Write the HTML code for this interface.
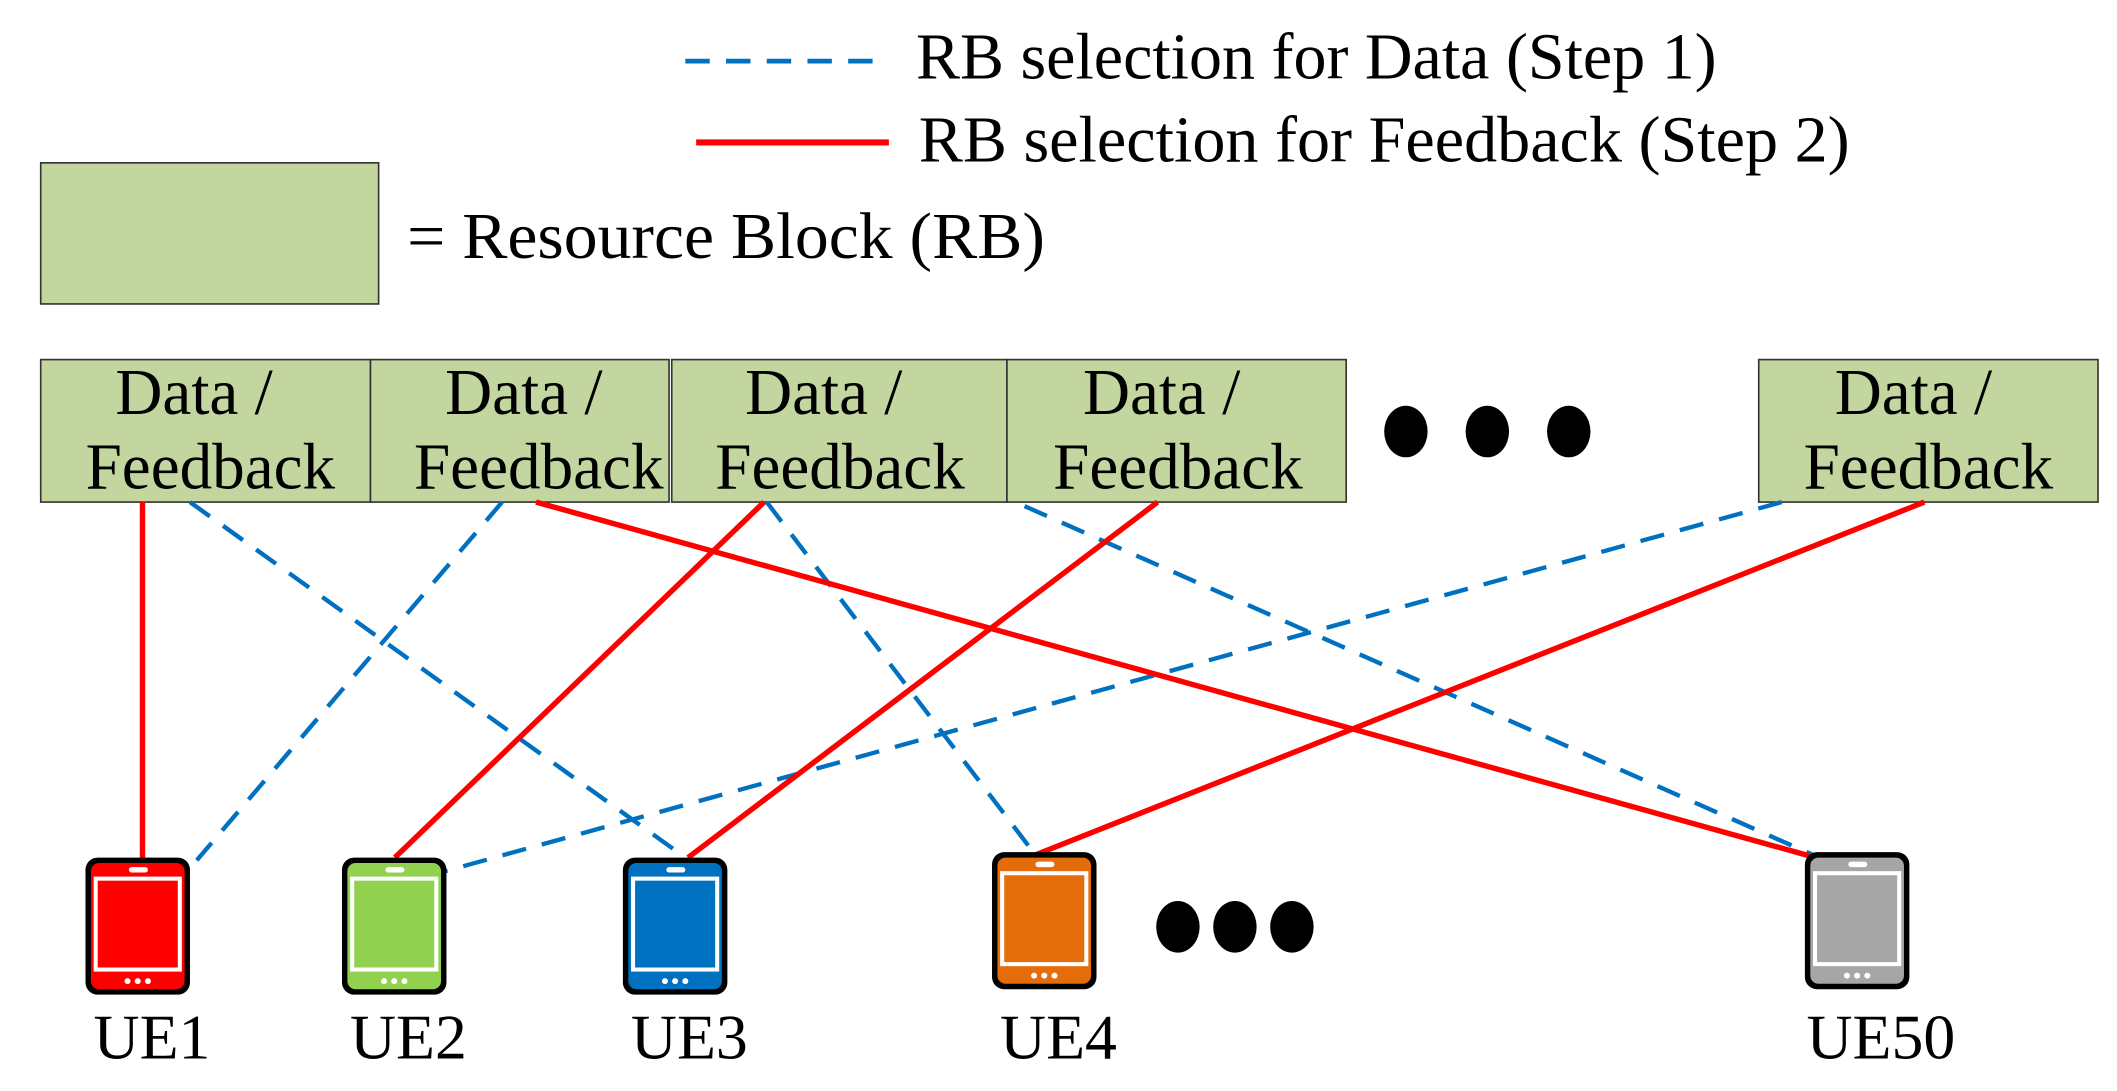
<!DOCTYPE html>
<html><head><style>html,body{margin:0;padding:0;background:#fff}svg{display:block}</style></head>
<body>
<svg width="2117" height="1091" viewBox="0 0 1560 804" preserveAspectRatio="none" xmlns="http://www.w3.org/2000/svg" font-family="Liberation Serif, serif">
<defs>
<g id="ph">
<rect x="0" y="0" width="77" height="101" rx="9" fill="#000"/>
<rect x="4" y="4" width="69" height="93" rx="6" fill="currentColor"/>
<rect x="6" y="14" width="65" height="70" fill="#fff"/>
<rect x="9" y="17" width="59" height="64" fill="currentColor"/>
<rect x="32" y="7" width="14" height="4" rx="2" fill="#fff"/>
<circle cx="31" cy="91" r="2.2" fill="#fff"/><circle cx="38.5" cy="91" r="2.2" fill="#fff"/><circle cx="46" cy="91" r="2.2" fill="#fff"/>
</g>
</defs>
<line x1="505" y1="45" x2="655" y2="45" stroke="#0070c0" stroke-width="3.5" stroke-dasharray="18,12"/>
<text x="675" y="58" font-size="48" textLength="590" lengthAdjust="spacingAndGlyphs">RB selection for Data (Step 1)</text>
<line x1="513" y1="105" x2="655" y2="105" stroke="#f00" stroke-width="4.5"/>
<text x="677" y="119" font-size="48" textLength="686" lengthAdjust="spacingAndGlyphs">RB selection for Feedback (Step 2)</text>
<rect x="30" y="120" width="249" height="104" fill="#c4d6a0" stroke="#333" stroke-width="1.2"/>
<text x="300" y="190" font-size="48" textLength="470" lengthAdjust="spacingAndGlyphs">= Resource Block (RB)</text>
<g fill="#c4d6a0" stroke="#333" stroke-width="1.2">
<rect x="30" y="265" width="243" height="105"/>
<rect x="273" y="265" width="220" height="105"/>
<rect x="495" y="265" width="247" height="105"/>
<rect x="742" y="265" width="250" height="105"/>
<rect x="1296" y="265" width="250" height="105"/>
</g>
<g font-size="48" text-anchor="middle">
<text x="143" y="305">Data /</text><text x="155" y="360">Feedback</text>
<text x="386" y="305">Data /</text><text x="397" y="360">Feedback</text>
<text x="607" y="305">Data /</text><text x="619" y="360">Feedback</text>
<text x="856" y="305">Data /</text><text x="868" y="360">Feedback</text>
<text x="1410" y="305">Data /</text><text x="1421" y="360">Feedback</text>
</g>
<g fill="#000">
<ellipse cx="1036" cy="318" rx="16" ry="19"/><ellipse cx="1096" cy="318" rx="16" ry="19"/><ellipse cx="1156" cy="318" rx="16" ry="19"/>
<ellipse cx="868" cy="683" rx="16" ry="19"/><ellipse cx="910" cy="683" rx="16" ry="19"/><ellipse cx="952" cy="683" rx="16" ry="19"/>
</g>
<g stroke="#0070c0" stroke-width="3.2" stroke-dasharray="18,12" fill="none">
<line x1="140" y1="370" x2="505" y2="632"/>
<line x1="370" y1="370" x2="145" y2="634"/>
<line x1="565" y1="370" x2="763" y2="630"/>
<line x1="755" y1="373" x2="1336" y2="630"/>
<line x1="1313" y1="370" x2="328" y2="642"/>
</g>
<g stroke="#f00" stroke-width="4" fill="none">
<line x1="105" y1="370" x2="105" y2="634"/>
<line x1="395" y1="370" x2="1338" y2="632"/>
<line x1="563" y1="370" x2="291" y2="632"/>
<line x1="853" y1="370" x2="507" y2="632"/>
<line x1="1418" y1="370" x2="763" y2="630"/>
</g>
<use href="#ph" x="63" y="632" style="color:#f00"/>
<use href="#ph" x="252" y="632" style="color:#92d050"/>
<use href="#ph" x="459" y="632" style="color:#0070c0"/>
<use href="#ph" x="731" y="628" style="color:#e46c0a"/>
<use href="#ph" x="1330" y="628" style="color:#a6a6a6"/>
<g font-size="47" text-anchor="middle">
<text x="112" y="780">UE1</text>
<text x="301" y="780">UE2</text>
<text x="508" y="780">UE3</text>
<text x="780" y="780">UE4</text>
<text x="1386" y="780">UE50</text>
</g>
</svg>
</body></html>
